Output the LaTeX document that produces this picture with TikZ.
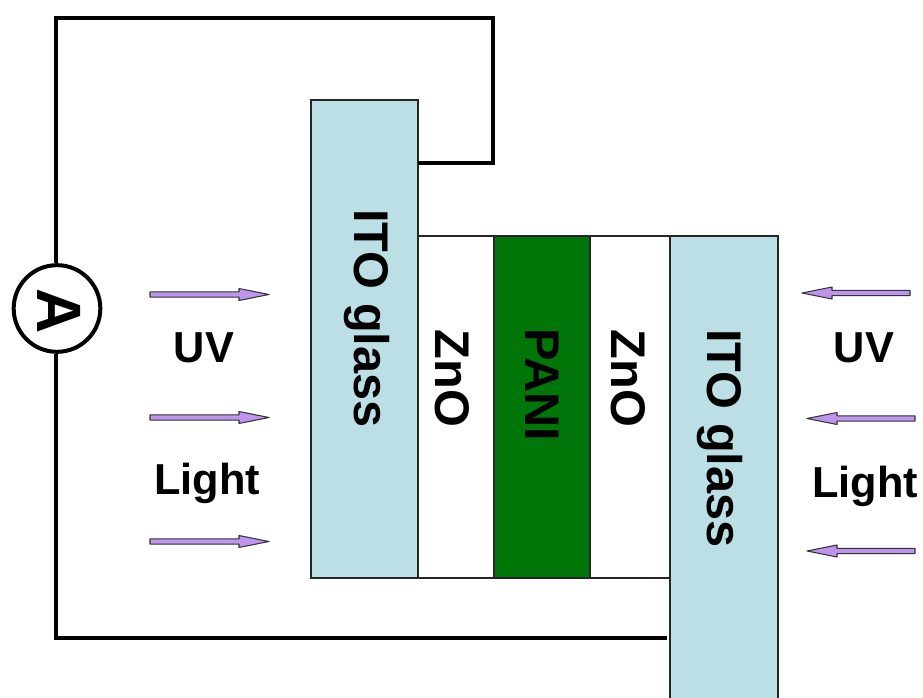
\documentclass[tikz,border=0pt]{standalone}
\usepackage{fontspec}
\setmainfont{Liberation Sans}
\definecolor{ito}{HTML}{BBDFE4}
\definecolor{pani}{HTML}{007508}
\definecolor{arrowfill}{HTML}{BE94EE}
\newcommand{\beamarrow}[4]{% tail x, y, direction (+1/-1), length
  \begin{scope}[shift={(#1,#2)},xscale=#3]
    \draw[beamline] (0,-2.6) -- (#4-30,-2.6) -- (#4-30,-6) -- (#4,0) -- (#4-30,6) -- (#4-30,2.6) -- (0,2.6) -- cycle;
  \end{scope}}
\tikzset{
  x=0.75pt,y=-0.75pt,
  layer/.style={draw=black!85,line width=0.8pt},
  anchorpt/.style={inner sep=0pt,minimum size=1pt},
  wire/.style={line width=3pt,line join=miter},
  lab/.style={font=\bfseries\fontsize{32.5}{32.5}\selectfont,text=black},
  vlab/.style={font=\bfseries\fontsize{36.5}{36.5}\selectfont,text=black,rotate=-90},
  beamline/.style={draw=black!80,line width=0.8pt,fill=arrowfill,line join=round}
}
\begin{document}
\begin{tikzpicture}
\useasboundingbox (0,0) rectangle (923,698);
\fill[white] (0,0) rectangle (923,698);
% layers
\path[layer,fill=white] (418,236) rectangle (670,578);
\path[layer,fill=ito] (311,100) rectangle (418,578);
\path[layer,fill=pani] (494,236) rectangle (590,578);
\path[layer,fill=ito] (670,236) -- (778,236) -- (778,698) (670,698) -- (670,236);
\fill[ito] (670.4,236.4) rectangle (777.6,698);
\draw[layer] (670,698) -- (670,236) -- (778,236) -- (778,698);
\node[anchorpt] (topito) at (418,163) {};
\node[anchorpt] (botito) at (667,638) {};
\node[circle,draw=black,line width=3pt,fill=white,minimum size=65pt,inner sep=0pt] (amp) at (57,308.5) {};
\node[font=\bfseries\fontsize{47}{47}\selectfont,rotate=-90,inner sep=0pt] (ampl) at (59,311) {A};
\coordinate (c1) at (493,163);
\coordinate (c2) at (493,18);
\coordinate (c3) at (56,18);
\coordinate (c4) at (56,638);
\draw[wire] (topito.center) -- (c1) -- (c2) -- (c3) -- (c3 |- amp.north);
\draw[wire] (c4 |- amp.south) -- (c4) -- (botito.center);
% labels
\node[vlab] (t1) at (367,318.5) {ITO glass};
\node[vlab] (t2) at (452,378.5) {ZnO};
\node[vlab] (t3) at (542,385) {PANI};
\node[vlab] (t4) at (628,378.5) {ZnO};
\node[vlab] (t5) at (720,438.5) {ITO glass};
\node[lab] (u1) at (204,348) {UV};
\node[lab] (l1) at (207,483.5) {Light};
\node[lab] (u2) at (864,348) {UV};
\node[lab] (l2) at (865,486.5) {Light};
% arrows
\beamarrow{150}{294.5}{1}{119}
\beamarrow{150}{417.5}{1}{119}
\beamarrow{150}{541.5}{1}{119}
\beamarrow{910}{293}{-1}{108}
\beamarrow{915}{418.5}{-1}{108}
\beamarrow{915}{551}{-1}{108}
\end{tikzpicture}
\end{document}
